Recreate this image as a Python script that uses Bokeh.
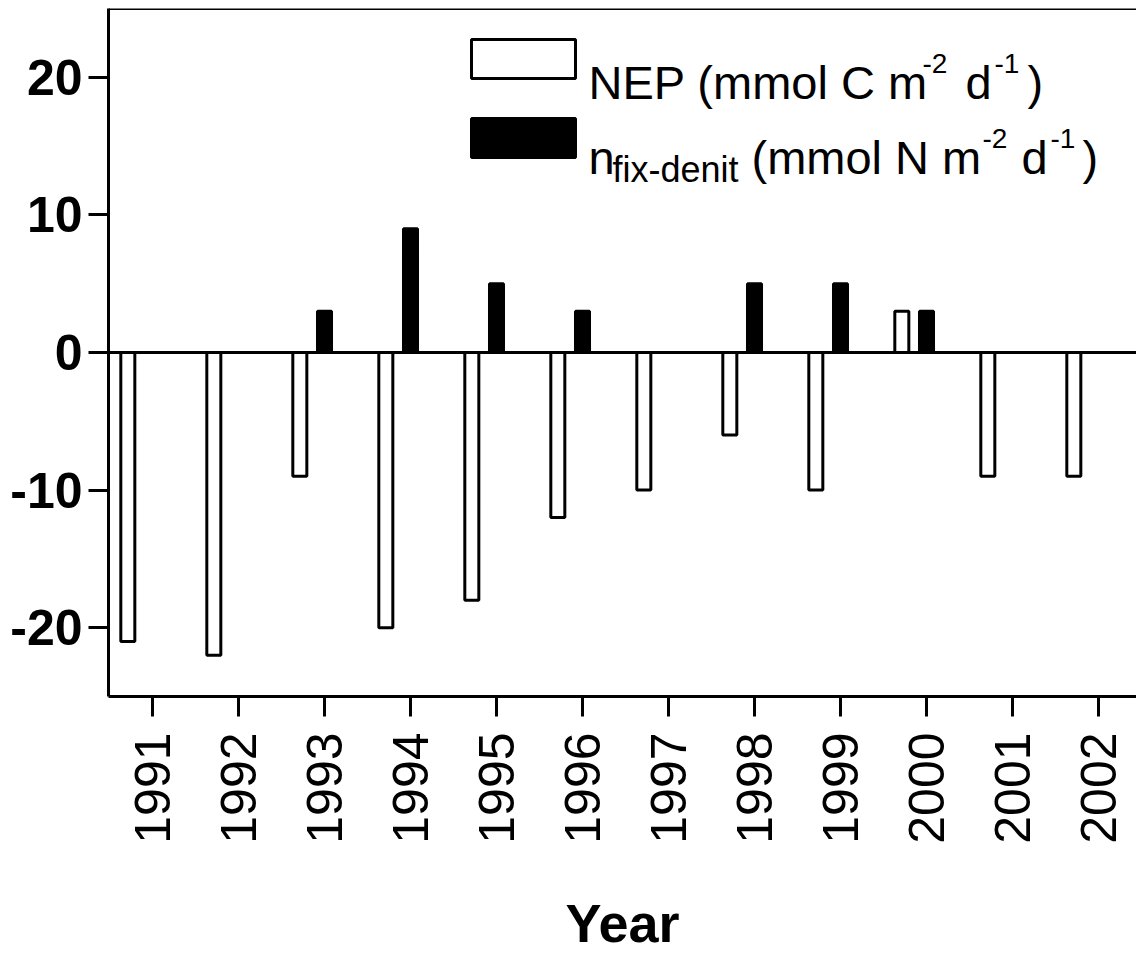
import math
from bokeh.plotting import figure
from bokeh.models import (ColumnDataSource, Range1d, FixedTicker, Span, Label,
                          BoxAnnotation)
from bokeh.transform import dodge
from bokeh.embed import file_html
from bokeh.resources import INLINE

# ---------------- data ----------------
years = [1991, 1992, 1993, 1994, 1995, 1996, 1997, 1998, 1999, 2000, 2001, 2002]
nep = [-21, -22, -9, -20, -18, -12, -10, -6, -10, 3, -9, -9]          # mmol C m-2 d-1
nfix_denit = [0, 0, 3, 9, 5, 3, 0, 5, 5, 3, 0, 0]                       # mmol N m-2 d-1
year_labels = [str(y) for y in years]
y_ticks = [-20, -10, 0, 10, 20]
y_tick_labels = ["-20", "-10", "0", "10", "20"]
x_title = "Year"

src = ColumnDataSource(dict(year=years, nep=nep, nfix=nfix_denit))

# ---------------- geometry ----------------
W, H = 1136, 955
FRAME_LEFT = 108
PX_PER_YEAR = 86.0
X0 = 1991 - (152 - FRAME_LEFT) / PX_PER_YEAR
X1 = X0 + (W - FRAME_LEFT) / PX_PER_YEAR
Y0, Y1 = -25, 25
FRAME_TOP, FRAME_BOT = 8, 696
PX_PER_UNIT = (FRAME_BOT - FRAME_TOP) / (Y1 - Y0)


def px2x(px):
    return X0 + (px - FRAME_LEFT) / PX_PER_YEAR


def py2y(py):
    return Y1 - (py - FRAME_TOP) / PX_PER_UNIT


p = figure(width=W, height=H, output_backend="svg", toolbar_location=None,
           x_range=Range1d(X0, X1), y_range=Range1d(Y0, Y1),
           min_border_left=FRAME_LEFT, min_border_right=0, min_border_top=FRAME_TOP,
           min_border_bottom=H - FRAME_BOT)
p.outline_line_color = None
p.grid.visible = False
p.background_fill_color = "white"
p.border_fill_color = "white"

BAR_W = 0.163
p.vbar(x=dodge("year", -0.287, range=p.x_range), top="nep", bottom=0, width=BAR_W,
       source=src, fill_color="white", line_color="black", line_width=3)
p.vbar(x="year", top="nfix", bottom=0, width=BAR_W, source=src,
       fill_color="black", line_color="black", line_width=3)

p.add_layout(Span(location=0, dimension="width", line_color="black", line_width=3))
p.add_layout(Span(location=Y1, dimension="width", line_color="black", line_width=3))

# axes
for ax in (p.xaxis[0], p.yaxis[0]):
    ax.axis_line_width = 3
    ax.axis_line_color = "black"
    ax.major_tick_in = 0
    ax.major_tick_out = 20
    ax.major_tick_line_width = 3
    ax.major_tick_line_color = "black"
    ax.minor_tick_line_color = None

p.yaxis.ticker = FixedTicker(ticks=y_ticks)
p.yaxis.major_label_overrides = {t: lab for t, lab in zip(y_ticks, y_tick_labels)}
p.yaxis.major_label_text_font = "Liberation Sans"
p.yaxis.major_label_text_font_style = "bold"
p.yaxis.major_label_text_font_size = "50px"
p.yaxis.major_label_text_color = "black"
p.yaxis.major_label_standoff = 6

p.xaxis.ticker = FixedTicker(ticks=years)
p.xaxis.major_label_overrides = {y: lab for y, lab in zip(years, year_labels)}
p.xaxis.major_label_orientation = math.pi / 2
p.xaxis.major_label_text_font = "Liberation Sans"
p.xaxis.major_label_text_font_size = "50px"
p.xaxis.major_label_text_color = "black"
p.xaxis.major_label_standoff = 16
p.xaxis.axis_label = x_title
p.xaxis.axis_label_text_font = "Liberation Sans"
p.xaxis.axis_label_text_font_style = "bold"
p.xaxis.axis_label_text_font_size = "54px"
p.xaxis.axis_label_text_color = "black"
p.xaxis.axis_label_standoff = 46

# legend swatches
p.add_layout(BoxAnnotation(left=px2x(471), right=px2x(575), top=py2y(39), bottom=py2y(78),
                           fill_color="white", fill_alpha=1, line_color="black",
                           line_width=3, line_alpha=1))
p.add_layout(BoxAnnotation(left=px2x(471), right=px2x(575), top=py2y(118), bottom=py2y(157),
                           fill_color="black", fill_alpha=1, line_color="black",
                           line_width=3, line_alpha=1))

# legend texts (text, page x, page baseline y, size)
pieces = [
    ("NEP (mmol C m", 588, 82, 47),
    ("-2", 922, 63, 28),
    ("d", 965, 82, 47),
    ("-1", 994, 63, 28),
    (")", 1027, 82, 47),
    ("n", 588, 157, 47),
    ("fix-denit", 612, 169, 36),
    ("(mmol N m", 751, 157, 47),
    ("-2", 982, 138, 28),
    ("d", 1021, 157, 47),
    ("-1", 1050, 138, 28),
    (")", 1082, 157, 47),
]
for txt, px, py, sz in pieces:
    p.add_layout(Label(x=px2x(px), y=py2y(py), text=txt, text_font="Liberation Sans",
                       text_font_size=f"{sz}px", text_color="black",
                       text_align="left", text_baseline="alphabetic"))

open("out.html", "w").write(file_html(p, INLINE))
